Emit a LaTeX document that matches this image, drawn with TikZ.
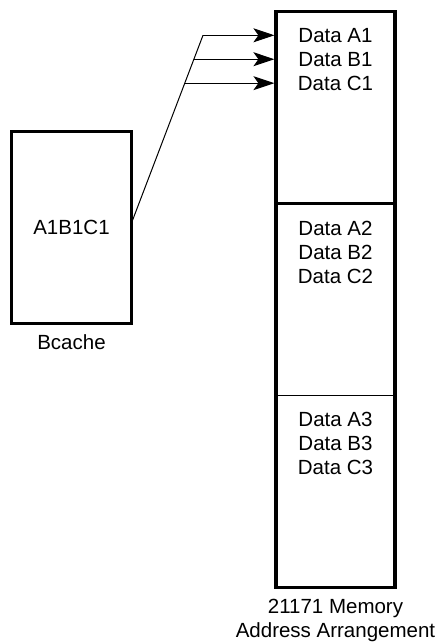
\documentclass[tikz,border=0pt]{standalone}
\usepackage{fontspec}
\setmainfont{Liberation Sans}
\usetikzlibrary{arrows.meta,calc}

\begin{document}
\begin{tikzpicture}[x=1pt,y=-1pt,every node/.style={outer sep=0pt},
  heavy/.style={line width=3.3pt},
  cachebox/.style={draw,heavy,minimum width=120pt,minimum height=192pt},
  cell/.style={draw,line width=1pt,minimum width=119pt,minimum height=192pt},
  txt/.style={font=\fontsize{20.5}{24}\selectfont,align=center,inner sep=0pt},
  feed/.style={line width=1pt,-{Stealth[length=21pt,width=14pt,inset=5pt]},shorten >=1.6pt}]

\useasboundingbox (0,0) rectangle (442,643);

% cache block
\node[cachebox] (bcache) at (71.5,227.5) {};
\node[txt] (bdata) at (bcache.center) {A1B1C1};
\node[txt,anchor=north,yshift=-11pt] (blabel) at (bcache.south) {Bcache};

% memory cells
\node[cell] (m1) at (335.5,107.5) {};
\node[cell] (m2) at (335.5,299.5) {};
\node[cell] (m3) at (335.5,491.5) {};
\draw[heavy] (m1.north west) rectangle (m3.south east);
\draw[heavy] (m1.south west) -- (m1.south east);

\node[txt,anchor=north,yshift=-17pt] (d1) at (m1.north) {Data A1\\Data B1\\Data C1};
\node[txt,anchor=north,yshift=-17.5pt] (d2) at (m2.north) {Data A2\\Data B2\\Data C2};
\node[txt,anchor=north,yshift=-17pt] (d3) at (m3.north) {Data A3\\Data B3\\Data C3};
\node[txt,anchor=north,yshift=-12pt] (mlabel) at (m3.south) {21171 Memory\\Address Arrangement};

% fan-out
\coordinate (src) at ([yshift=4.5pt]bcache.east);
\coordinate (fa) at (203,35.3);
\coordinate (fb) at ($(src)!0.8725!(fa)$);
\coordinate (fc) at ($(src)!0.745!(fa)$);
\draw[line width=1pt] (src) -- (fa);
\draw[feed] (fa) -- (m1.west |- fa);
\draw[feed] (fb) -- (m1.west |- fb);
\draw[feed] (fc) -- (m1.west |- fc);
\end{tikzpicture}
\end{document}
